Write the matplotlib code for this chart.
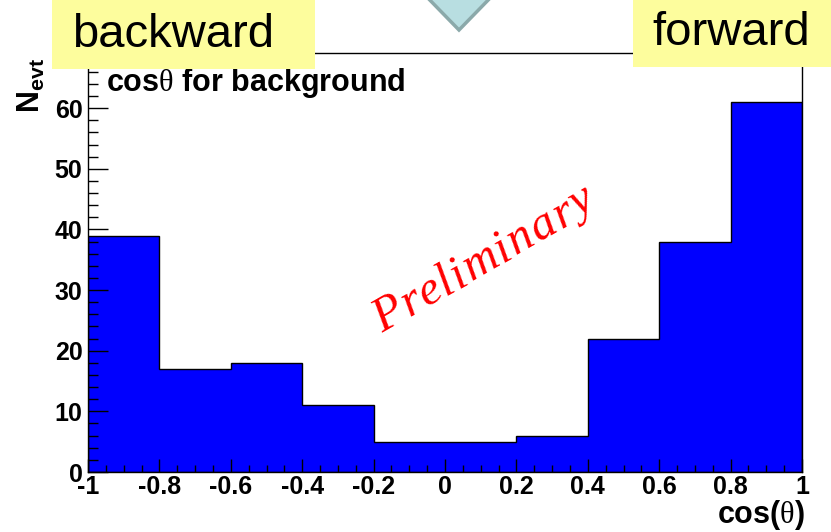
import matplotlib
matplotlib.use("Agg")
import matplotlib.pyplot as plt
from matplotlib.patches import Rectangle, Polygon
from matplotlib.ticker import MultipleLocator
from matplotlib.font_manager import FontProperties
from matplotlib.transforms import offset_copy
import numpy as np

plt.rcParams["font.family"] = ["Liberation Sans", "DejaVu Sans"]
plt.rcParams["mathtext.fontset"] = "custom"
plt.rcParams["mathtext.rm"] = "Liberation Serif"
plt.rcParams["mathtext.bf"] = "Liberation Sans:bold"

# cos(theta) histogram for background events, 10 bins over [-1, 1]
bin_edges = [-1.0, -0.8, -0.6, -0.4, -0.2, 0.0, 0.2, 0.4, 0.6, 0.8, 1.0]
n_evt = [39, 17, 18, 11, 5, 5, 6, 22, 38, 61]
x_ticks = [-1, -0.8, -0.6, -0.4, -0.2, 0, 0.2, 0.4, 0.6, 0.8, 1]
x_ticklabels = ["-1", "-0.8", "-0.6", "-0.4", "-0.2", "0", "0.2", "0.4", "0.6", "0.8", "1"]

W, H = 831, 532
fig = plt.figure(figsize=(W / 100, H / 100), dpi=100)


def px(x, y):
    return x / W, 1 - y / H


ax = fig.add_axes([88 / W, (H - 472) / H, 714 / W, 419 / H])

centers = [(a + b) / 2 for a, b in zip(bin_edges[:-1], bin_edges[1:])]
ax.hist(centers, bins=bin_edges, weights=n_evt, histtype="stepfilled",
        facecolor="#0000ff", edgecolor="black", linewidth=1.0)

ax.set_xlim(-1, 1)
ax.set_ylim(0, 69.1)
for s in ax.spines.values():
    s.set_linewidth(1.0)

ax.set_xticks(x_ticks)
ax.set_xticklabels(x_ticklabels)
ax.xaxis.set_minor_locator(MultipleLocator(0.05))
ax.yaxis.set_major_locator(MultipleLocator(10))
ax.yaxis.set_minor_locator(MultipleLocator(2))
ax.tick_params(axis="both", which="both", direction="in", top=False, right=False,
               width=1.0, labelsize=18)
ax.tick_params(axis="x", which="major", length=9.5, pad=2)
ax.tick_params(axis="x", which="minor", length=5)
ax.tick_params(axis="y", which="major", length=14.5, pad=4)
ax.tick_params(axis="y", which="minor", length=7.2)
for lab in ax.get_xticklabels() + ax.get_yticklabels():
    lab.set_fontweight("bold")

# "Preliminary" stamp, letter-spaced along a tilted baseline
stamp = "Preliminary"
stamp_font = FontProperties(family="Liberation Serif", style="italic", size=35)
angle = 30
spacing = 1.5  # extra pixels between letters
renderer = fig.canvas.get_renderer()
ca, sa = np.cos(np.radians(angle)), np.sin(np.radians(angle))
for i, ch in enumerate(stamp):
    if i:
        adv = renderer.get_text_width_height_descent(stamp[:i], stamp_font, ismath=False)[0]
    else:
        adv = 0.0
    d = adv + i * spacing
    tr = offset_copy(ax.transData, fig=fig, x=d * ca, y=d * sa, units="dots")
    ax.text(-0.177, 23.0, ch, transform=tr, rotation=angle, rotation_mode="anchor",
            ha="left", va="baseline", color="red", fontproperties=stamp_font)

# axis titles
fig.text(*px(805, 523), r"cos($\mathrm{\theta}$)", ha="right", va="baseline",
         fontsize=22, fontweight="bold")
fig.text(*px(31, 86), r"$\mathbf{N_{evt}}$", rotation=90, ha="center",
         va="center", fontsize=22)
fig.text(*px(106, 91), r"cos$\mathrm{\theta}$ for background", ha="left",
         va="baseline", fontsize=22, fontweight="bold")

# slide overlays: down arrow and the two direction boxes
arrow = Polygon([px(422, -8), px(459, 30), px(496, -8)], closed=True,
                transform=fig.transFigure, facecolor="#b8dee1",
                edgecolor="#8ba9aa", linewidth=2.5, zorder=10)
fig.add_artist(arrow)

yellow = "#fdfd9d"
for x0, x1, y1 in [(52, 315, 69), (633, 831, 67)]:
    fig.add_artist(Rectangle(px(x0, y1), (x1 - x0) / W, y1 / H,
                             transform=fig.transFigure, facecolor=yellow,
                             edgecolor="none", zorder=10))
fig.text(*px(72, 47), "backward", ha="left", va="baseline", fontsize=34, zorder=11)
fig.text(*px(652, 45), "forward", ha="left", va="baseline", fontsize=34, zorder=11)

fig.savefig("out.png", dpi=100)
